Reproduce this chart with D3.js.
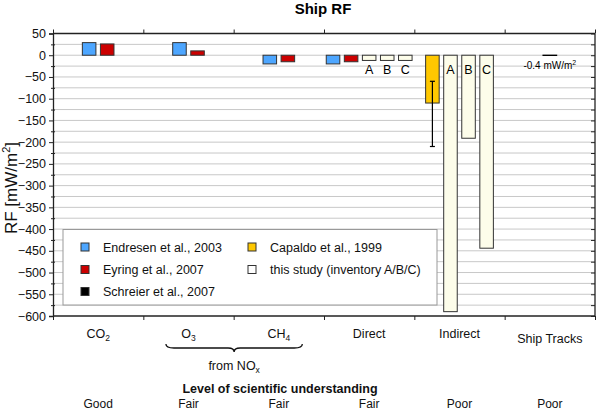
<!DOCTYPE html>
<html>
<head>
<meta charset="utf-8">
<script src="https://cdn.jsdelivr.net/npm/d3@7"></script>
<style>
  body { margin: 0; background: #fff; }
  svg { font-family: "Liberation Sans", Arial, Helvetica, sans-serif; }
</style>
</head>
<body>
<svg id="chart" width="600" height="412"></svg>
<script>
// Categories along the x axis (name + subscript part)
const categories = ["CO2", "O3", "CH4", "Direct", "Indirect", "Ship Tracks"];
const catBase = ["CO", "O", "CH", "Direct", "Indirect", "Ship Tracks"];
const catSub = ["2", "3", "4", "", "", ""];
const understanding = ["Good", "Fair", "Fair", "Fair", "Poor", "Poor"];

// RF values in mW/m2, null where a study gives no value
const endresen = [29, 29, -20, -20, null, null];
const eyring = [26, 10, -15, -15, null, null];
const capaldo = [null, null, null, null, -110, null];
const capaldoRange = [-60, -210];
const studyA = [null, null, null, -12, -590, null];
const studyB = [null, null, null, -12, -191, null];
const studyC = [null, null, null, -12, -444, null];
const schreier = [null, null, null, null, null, -0.4];

const yTicks = d3.range(-600, 51, 50);
const yGrid = d3.range(-575, 50, 25);

const series = [
  { name: "Endresen et al., 2003", values: endresen, color: "#4da6ff", label: "" },
  { name: "Eyring et al., 2007", values: eyring, color: "#cc0000", label: "" },
  { name: "Capaldo et al., 1999", values: capaldo, color: "#ffc800", label: "" },
  { name: "A", values: studyA, color: "#fdfdea", label: "A" },
  { name: "B", values: studyB, color: "#fdfdea", label: "B" },
  { name: "C", values: studyC, color: "#fdfdea", label: "C" },
  { name: "Schreier et al., 2007", values: schreier, color: "#000", label: "" }
];

const legendItems = [
  { name: "Endresen et al., 2003", color: "#4da6ff", col: 0, row: 0 },
  { name: "Eyring et al., 2007", color: "#cc0000", col: 0, row: 1 },
  { name: "Schreier et al., 2007", color: "#000", col: 0, row: 2 },
  { name: "Capaldo et al., 1999", color: "#ffc800", col: 1, row: 0 },
  { name: "this study (inventory A/B/C)", color: "#fff", col: 1, row: 1 }
];

const svg = d3.select("#chart");
const plotL = 53, plotR = 595, plotT = 33.5, plotB = 316;

const x = d3.scaleBand().domain(categories).range([plotL, plotR]).paddingInner(0).paddingOuter(0);
const xEdge = d3.scaleLinear().domain([0, categories.length]).range([plotL, plotR]);
const y = d3.scaleLinear().domain([-600, 50]).range([plotB, plotT]);

const step = x.bandwidth() * 0.2;
const barW = x.bandwidth() * 0.15;

// Grid lines
svg.append("g")
  .selectAll("line")
  .data(yGrid)
  .join("line")
  .attr("x1", plotL).attr("x2", plotR)
  .attr("y1", d => y(d)).attr("y2", d => y(d))
  .attr("stroke", "#c8c8c8")
  .attr("stroke-width", 1);

// Build bar list: per category, non-null values get consecutive slots
const bars = [];
categories.forEach((cat, ci) => {
  const present = series.filter(s => s.values[ci] !== null);
  present.forEach((s, i) => {
    const cx = x(cat) + x.bandwidth() / 2 + (i - (present.length - 1) / 2) * step;
    bars.push({ cat, ci, cx, value: s.values[ci], color: s.color, label: s.label, name: s.name });
  });
});

svg.append("g")
  .selectAll("rect")
  .data(bars)
  .join("rect")
  .attr("x", d => d.cx - barW / 2)
  .attr("width", barW)
  .attr("y", d => Math.min(y(d.value), y(0)))
  .attr("height", d => Math.abs(y(d.value) - y(0)))
  .attr("fill", d => d.color)
  .attr("stroke", d => d.color === "#000" ? "#000" : "#333")
  .attr("stroke-width", d => d.color === "#000" ? 1.2 : 1);

// A/B/C labels
svg.append("g")
  .selectAll("text")
  .data(bars.filter(d => d.label))
  .join("text")
  .attr("x", d => d.cx)
  .attr("y", y(0) + 19)
  .attr("text-anchor", "middle")
  .attr("font-size", 12.5)
  .text(d => d.label);

// Capaldo range
const capBar = bars.find(d => d.name === "Capaldo et al., 1999");
const eg = svg.append("g").attr("stroke", "#000").attr("stroke-width", 1.2);
eg.append("line").attr("x1", capBar.cx).attr("x2", capBar.cx)
  .attr("y1", y(capaldoRange[0])).attr("y2", y(capaldoRange[1]));
capaldoRange.forEach(v => {
  eg.append("line").attr("x1", capBar.cx - 2.5).attr("x2", capBar.cx + 2.5)
    .attr("y1", y(v)).attr("y2", y(v));
});

// Ship tracks annotation
const stBar = bars.find(d => d.name === "Schreier et al., 2007");
const st = svg.append("text")
  .attr("x", stBar.cx)
  .attr("y", y(0) + 14)
  .attr("text-anchor", "middle")
  .attr("font-size", 10);
st.append("tspan").text(stBar.value + " mW/m");
st.append("tspan").attr("font-size", 7).attr("dy", -4).text("2");

// Axes
const frame = svg.append("g").attr("stroke", "#222").attr("stroke-width", 1.3);
frame.append("line").attr("x1", plotL).attr("x2", plotR).attr("y1", plotT).attr("y2", plotT);
frame.append("line").attr("x1", plotL).attr("x2", plotR).attr("y1", plotB).attr("y2", plotB);
frame.append("line").attr("x1", plotR).attr("x2", plotR).attr("y1", plotT).attr("y2", plotB);

const yAxis = svg.append("g")
  .attr("transform", `translate(${plotL},0)`)
  .call(d3.axisLeft(y).tickValues(yTicks).tickSize(4).tickPadding(3));
yAxis.select(".domain").attr("stroke", "#222").attr("stroke-width", 1.3);
yAxis.selectAll(".tick line").attr("stroke", "#222");
yAxis.selectAll(".tick text").attr("font-size", 12.5).attr("font-family", "Liberation Sans, Arial, sans-serif").attr("fill", "#111");

const yMinor = svg.append("g")
  .attr("transform", `translate(${plotL + 2},0)`)
  .call(d3.axisLeft(y).tickValues(yGrid.filter(v => v % 50 !== 0)).tickSize(4).tickFormat(""));
yMinor.select(".domain").remove();
yMinor.selectAll(".tick line").attr("stroke", "#222");

const yRight = svg.append("g")
  .attr("transform", `translate(${plotR},0)`)
  .call(d3.axisLeft(y).tickValues(d3.range(-600, 51, 25)).tickSize(4).tickFormat(""));
yRight.select(".domain").remove();
yRight.selectAll(".tick line").attr("stroke", "#222");

const xTop = svg.append("g")
  .attr("transform", `translate(0,${plotT})`)
  .call(d3.axisTop(xEdge).ticks(6).tickSize(4).tickFormat(""));
xTop.select(".domain").remove();
xTop.selectAll(".tick line").attr("stroke", "#222");

const xBot = svg.append("g")
  .attr("transform", `translate(0,${plotB})`)
  .call(d3.axisBottom(xEdge).ticks(6).tickSize(4).tickFormat(""));
xBot.select(".domain").remove();
xBot.selectAll(".tick line").attr("stroke", "#222");

// Category labels
svg.append("g")
  .selectAll("text")
  .data(categories)
  .join("text")
  .attr("x", d => x(d) + x.bandwidth() / 2)
  .attr("y", (d, i) => i === 5 ? 343 : 338)
  .attr("text-anchor", "middle")
  .attr("font-size", 12.5)
  .attr("fill", "#111")
  .each(function(d, i) {
    const t = d3.select(this);
    t.append("tspan").text(catBase[i]);
    if (catSub[i]) t.append("tspan").attr("font-size", 8.5).attr("dy", 3).text(catSub[i]);
  });

// Brace under O3 / CH4
const bx0 = x("O3") + x.bandwidth() * 0.25;
const bx1 = x("CH4") + x.bandwidth() * 0.76;
const bm = (bx0 + bx1) / 2;
const by = 344;
svg.append("path")
  .attr("d", `M${bx0},${by} Q${bx0},${by + 4} ${bx0 + 8},${by + 4} L${bm - 6},${by + 4} Q${bm},${by + 4} ${bm},${by + 8} Q${bm},${by + 4} ${bm + 6},${by + 4} L${bx1 - 8},${by + 4} Q${bx1},${by + 4} ${bx1},${by}`)
  .attr("fill", "none")
  .attr("stroke", "#111")
  .attr("stroke-width", 1.3);

const nox = svg.append("text")
  .attr("x", bm).attr("y", 370)
  .attr("text-anchor", "middle")
  .attr("font-size", 12.5)
  .attr("fill", "#111");
nox.append("tspan").text("from NO");
nox.append("tspan").attr("font-size", 8.5).attr("dy", 3).text("x");

svg.append("text")
  .attr("x", 280).attr("y", 393)
  .attr("text-anchor", "middle")
  .attr("font-size", 12.5)
  .attr("font-weight", "bold")
  .attr("fill", "#111")
  .text("Level of scientific understanding");

svg.append("g")
  .selectAll("text")
  .data(understanding)
  .join("text")
  .attr("x", (d, i) => x(categories[i]) + x.bandwidth() / 2)
  .attr("y", 408)
  .attr("text-anchor", "middle")
  .attr("font-size", 12)
  .attr("fill", "#111")
  .text(d => d);

// Title
svg.append("text")
  .attr("x", 323).attr("y", 14)
  .attr("text-anchor", "middle")
  .attr("font-size", 15)
  .attr("font-weight", "bold")
  .text("Ship RF");

// Y label
const yl = svg.append("text")
  .attr("transform", `translate(17,188) rotate(-90)`)
  .attr("text-anchor", "middle")
  .attr("font-size", 17)
  .attr("fill", "#111");
yl.append("tspan").text("RF [mW/m");
yl.append("tspan").attr("font-size", 11).attr("dy", -7).text("2");
yl.append("tspan").attr("dy", 7).text("]");

// Legend
const lg = svg.append("g");
lg.append("rect")
  .attr("x", 63).attr("y", 229.5)
  .attr("width", 374).attr("height", 75.5)
  .attr("fill", "#fff")
  .attr("stroke", "#999")
  .attr("stroke-width", 1);

const colX = [81, 248];
const rowY = [247, 269.5, 291.5];
const li = lg.selectAll("g.item")
  .data(legendItems)
  .join("g")
  .attr("class", "item")
  .attr("transform", d => `translate(${colX[d.col]},${rowY[d.row]})`);
li.append("rect")
  .attr("x", 0).attr("y", -4)
  .attr("width", 8).attr("height", 8)
  .attr("fill", d => d.color)
  .attr("stroke", "#333");
li.append("text")
  .attr("x", 22).attr("y", 4.5)
  .attr("font-size", 12.5)
  .attr("fill", "#111")
  .text(d => d.name);
</script>
</body>
</html>
